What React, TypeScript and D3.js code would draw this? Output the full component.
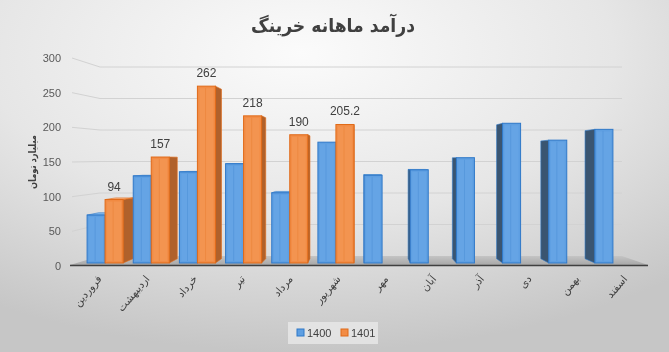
import React from "react";
import * as d3 from "d3";

const months = ["فروردین", "اردیبهشت", "خرداد", "تیر", "مرداد", "شهریور", "مهر", "آبان", "آذر", "دی", "بهمن", "اسفند"];
const values1400 = [71, 129, 135, 147, 104, 179, 130, 138, 156, 207, 182, 198];
const values1401 = [94, 157, 262, 218, 190, 205.2];
const labels1401 = ["94", "157", "262", "218", "190", "205.2"];
const seriesNames = ["1400", "1401"];
const yTicks = [0, 50, 100, 150, 200, 250, 300];
const titleText = "درآمد ماهانه خرینگ";
const yTitle = "میلیارد تومان";

const W = 669;
const H = 352;
const VP = { x: 360, y: 160 };
const K = 0.042;

type Pt = [number, number];
const back = (p: Pt, k = K): Pt => [p[0] + (VP.x - p[0]) * k, p[1] + (VP.y - p[1]) * k];
const poly = (pts: Pt[]) => pts.map((p) => p.join(",")).join(" ");

const palette = {
  blue: { front: "#5E9FE2", light: "#74B0EC", stroke: "#2F78C8", side: "#3A5571", top: "#86BBEE" },
  orange: { front: "#F28C45", light: "#F7A365", stroke: "#E06A18", side: "#B0612B", top: "#F8B07C" },
};

export default function App() {
  const x = d3.scaleBand<string>().domain(months).range([82, 636]).paddingInner(0.22).paddingOuter(0.11);
  const sub = d3.scaleBand<string>().domain(seriesNames).range([0, x.bandwidth()]);
  const yBar = d3.scaleLinear().domain([0, 300]).range([263, 60.5]);
  const yAxis = d3.scaleLinear().domain([0, 300]).range([266, 58]);
  const yBack = d3.scaleLinear().domain([0, 300]).range([256, 67]);

  type Bar = { x0: number; x1: number; yt: number; yb: number; c: typeof palette.blue; label?: string };
  const bars: Bar[] = [];
  months.forEach((m, i) => {
    const gx = x(m)!;
    bars.push({ x0: gx + sub("1400")!, x1: gx + sub("1400")! + sub.bandwidth(), yt: yBar(values1400[i]), yb: yBar(0), c: palette.blue });
    if (i < values1401.length) {
      bars.push({ x0: gx + sub("1401")!, x1: gx + sub("1401")! + sub.bandwidth(), yt: yBar(values1401[i]), yb: yBar(0), c: palette.orange, label: labels1401[i] });
    }
  });

  const sides = bars.map((b, i) => {
    const els: React.ReactNode[] = [];
    if (b.x1 < VP.x) {
      const p1: Pt = [b.x1, b.yt], p2: Pt = [b.x1, b.yb];
      els.push(<polygon key={"s" + i} points={poly([p1, back(p1), back(p2), p2])} fill={b.c.side} stroke={b.c.stroke} strokeWidth={0.6} />);
    } else if (b.x0 > VP.x) {
      const p1: Pt = [b.x0, b.yt], p2: Pt = [b.x0, b.yb];
      els.push(<polygon key={"s" + i} points={poly([p1, back(p1), back(p2), p2])} fill={b.c.side} stroke={b.c.stroke} strokeWidth={0.6} />);
    }
    if (b.yt > VP.y) {
      const a: Pt = [b.x0, b.yt], c: Pt = [b.x1, b.yt];
      els.push(<polygon key={"t" + i} points={poly([a, c, back(c), back(a)])} fill={b.c.top} stroke={b.c.stroke} strokeWidth={0.6} />);
    }
    return els;
  });

  const fronts = bars.map((b, i) => (
    <g key={"f" + i}>
      <rect x={b.x0} y={b.yt} width={b.x1 - b.x0} height={b.yb - b.yt} fill={b.c.front} stroke={b.c.stroke} strokeWidth={1} />
      <rect x={b.x0 + 2} y={b.yt + 2} width={b.x1 - b.x0 - 4} height={Math.max(0, b.yb - b.yt - 4)} fill={b.c.light} opacity={0.35} />
      <line x1={b.x0 + (b.x1 - b.x0) * 0.45} x2={b.x0 + (b.x1 - b.x0) * 0.45} y1={b.yt + 2} y2={b.yb - 2} stroke={b.c.stroke} strokeOpacity={0.25} />
    </g>
  ));

  const floor: Pt[] = [[70, 265], [648, 265], [622, 256], [100, 256]];

  return (
    <div style={{ position: "fixed", left: 0, top: 0 }}>
      <svg width={W} height={H} viewBox={`0 0 ${W} ${H}`} style={{ display: "block" }}>
        <defs>
          <radialGradient id="bg" cx="0.45" cy="0.15" r="0.85">
            <stop offset="0" stopColor="#fbfbfb" />
            <stop offset="0.55" stopColor="#e6e6e6" />
            <stop offset="1" stopColor="#c6c6c6" />
          </radialGradient>
          <linearGradient id="floorG" x1="0" x2="0" y1="0" y2="1">
            <stop offset="0" stopColor="#c4c4c4" />
            <stop offset="1" stopColor="#a8a8a8" />
          </linearGradient>
        </defs>
        <rect x={0} y={0} width={W} height={H} fill="url(#bg)" />

        <text x={333} y={32} textAnchor="middle" fontFamily="DejaVu Sans" fontWeight="bold" fontSize={19} fill="#404040" textLength={164} lengthAdjust="spacingAndGlyphs">
          {titleText}
        </text>

        {yTicks.filter((v) => v > 0).map((v) => (
          <polyline key={v} points={poly([[72, yAxis(v)], [100, yBack(v)], [622, yBack(v)]])} fill="none" stroke="#d2d2d2" strokeWidth={1} />
        ))}

        <polygon points={poly(floor)} fill="url(#floorG)" />
        <line x1={70} x2={648} y1={265.5} y2={265.5} stroke="#404040" strokeWidth={1.6} />

        {yTicks.map((v) => (
          <text key={v} x={61} y={yAxis(v)} textAnchor="end" dominantBaseline="central" fontFamily="Liberation Sans" fontSize={11} fill="#595959">
            {v}
          </text>
        ))}

        <text transform={`translate(32,162) rotate(-90)`} textAnchor="middle" dominantBaseline="central" fontFamily="DejaVu Sans" fontWeight="bold" fontSize={10} fill="#404040" textLength={54} lengthAdjust="spacingAndGlyphs">
          {yTitle}
        </text>

        {sides}
        {fronts}

        {bars.filter((b) => b.label).map((b, i) => (
          <text key={"l" + i} x={(b.x0 + b.x1) / 2} y={b.yt - 13} textAnchor="middle" dominantBaseline="central" fontFamily="Liberation Sans" fontSize={12} fill="#404040">
            {b.label}
          </text>
        ))}

        {months.map((m) => {
          const c = x(m)! + x.bandwidth() / 2;
          const lx = c + (c - VP.x) * 0.035;
          return (
            <text key={m} transform={`translate(${lx},274) rotate(-50)`} textAnchor="end" dominantBaseline="hanging" fontFamily="DejaVu Sans" fontSize={10.5} fill="#404040">
              {m}
            </text>
          );
        })}

        <rect x={288} y={322} width={90} height={22} fill="#e9e9e9" opacity={0.8} />
        {seriesNames.map((s, i) => {
          const c = i === 0 ? palette.blue : palette.orange;
          const lx = 297 + i * 44;
          return (
            <g key={s}>
              <rect x={lx} y={329} width={7} height={7} fill={c.front} stroke={c.stroke} strokeWidth={1} />
              <text x={lx + 10} y={333} dominantBaseline="central" fontFamily="Liberation Sans" fontSize={11} fill="#404040">
                {s}
              </text>
            </g>
          );
        })}
      </svg>
    </div>
  );
}
